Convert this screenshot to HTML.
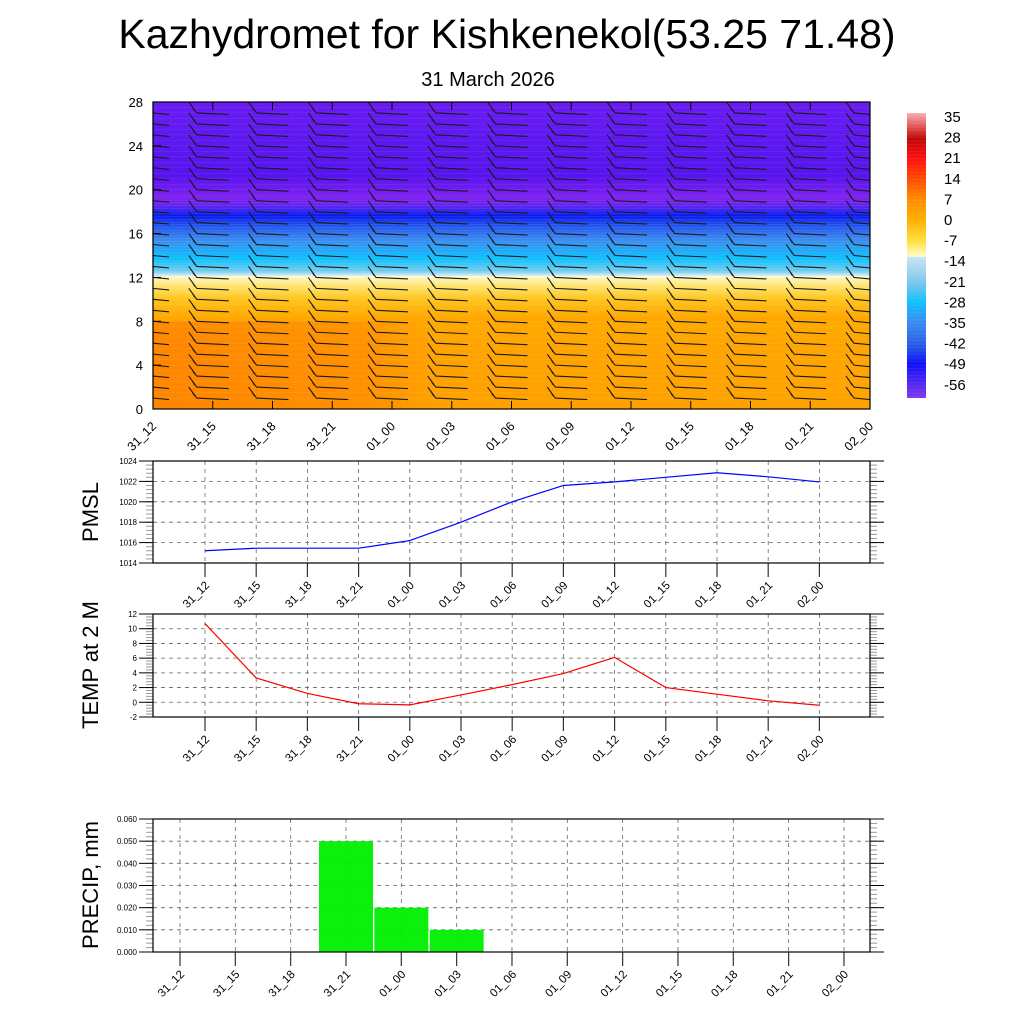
<!DOCTYPE html>
<html><head><meta charset="utf-8"><style>
html,body{margin:0;padding:0;background:#fff;}
svg{display:block;font-family:"Liberation Sans",Arial,sans-serif;}
</style></head><body>
<svg id="s" width="1024" height="1024" viewBox="0 0 1024 1024">
<defs>
<linearGradient id="tgrad" x1="0" y1="0" x2="0" y2="1">
<stop offset="0" stop-color="#6a1cf2"/>
<stop offset="0.14" stop-color="#5c18f0"/>
<stop offset="0.24" stop-color="#5814ee"/>
<stop offset="0.30" stop-color="#7a20f0"/>
<stop offset="0.33" stop-color="#7420ee"/>
<stop offset="0.345" stop-color="#4a28f0"/>
<stop offset="0.37" stop-color="#0a1aee"/>
<stop offset="0.40" stop-color="#2050ee"/>
<stop offset="0.45" stop-color="#3a8cf0"/>
<stop offset="0.51" stop-color="#0cc0ff"/>
<stop offset="0.55" stop-color="#70ccee"/>
<stop offset="0.5665" stop-color="#d8eef6"/>
<stop offset="0.567" stop-color="#fffad0"/>
<stop offset="0.60" stop-color="#ffe470"/>
<stop offset="0.64" stop-color="#ffc620"/>
<stop offset="0.70" stop-color="#ffa800"/>
<stop offset="0.80" stop-color="#ff9c00"/>
<stop offset="1" stop-color="#ff9a00"/>
</linearGradient>
<linearGradient id="hgrad" x1="0" y1="0" x2="1" y2="0">
<stop offset="0" stop-color="#ff7800" stop-opacity="0.6"/>
<stop offset="0.3" stop-color="#ff8400" stop-opacity="0.45"/>
<stop offset="0.4" stop-color="#ffb000" stop-opacity="0.35"/>
<stop offset="1" stop-color="#ffb400" stop-opacity="0.35"/>
</linearGradient>
<linearGradient id="cbar" x1="0" y1="0" x2="0" y2="1">
<stop offset="0" stop-color="#f8b0b0"/>
<stop offset="0.05" stop-color="#e05050"/>
<stop offset="0.09" stop-color="#c00808"/>
<stop offset="0.16" stop-color="#ff1010"/>
<stop offset="0.23" stop-color="#ff4a00"/>
<stop offset="0.30" stop-color="#ff8a00"/>
<stop offset="0.375" stop-color="#ffb000"/>
<stop offset="0.45" stop-color="#ffe040"/>
<stop offset="0.504" stop-color="#fffccc"/>
<stop offset="0.505" stop-color="#c8e6f4"/>
<stop offset="0.59" stop-color="#80c8ec"/>
<stop offset="0.665" stop-color="#10c0ff"/>
<stop offset="0.74" stop-color="#3a88f0"/>
<stop offset="0.81" stop-color="#2a60e8"/>
<stop offset="0.88" stop-color="#1010f8"/>
<stop offset="1" stop-color="#8438ee"/>
</linearGradient>
</defs>
<text x="507" y="48" font-size="41" text-anchor="middle">Kazhydromet for Kishkenekol(53.25 71.48)</text>
<text x="488" y="86" font-size="20" text-anchor="middle">31 March 2026</text>
<g id="top"></g>
<g id="cb"></g>
<g id="p1"></g>
<g id="p2"></g>
<g id="p3"></g>
</svg>
<script>
const timeLabels=["31_12","31_15","31_18","31_21","01_00","01_03","01_06","01_09","01_12","01_15","01_18","01_21","02_00"];
const heightTicks=[0,4,8,12,16,20,24,28];
const colorbarLabels=["35","28","21","14","7","0","-7","-14","-21","-28","-35","-42","-49","-56"];
const pmslValues=[1015.2,1015.45,1015.45,1015.45,1016.2,1018.0,1020.0,1021.6,1021.95,1022.4,1022.85,1022.45,1021.95];
const pmslTicks=[1014,1016,1018,1020,1022,1024];
const tempValues=[10.7,3.3,1.2,-0.2,-0.35,1.0,2.4,3.9,6.1,2.0,1.1,0.2,-0.4];
const tempTicks=[-2,0,2,4,6,8,10,12];
const precipValues=[0,0,0,0.05,0.02,0.01,0,0,0,0,0,0,0];
const precipTicks=[0,0.01,0.02,0.03,0.04,0.05,0.06];
const precipTickLabels=["0.000","0.010","0.020","0.030","0.040","0.050","0.060"];

const NS="http://www.w3.org/2000/svg";
function mk(parent,tag,attrs,text){const e=document.createElementNS(NS,tag);for(const k in attrs)e.setAttribute(k,attrs[k]);if(text!==undefined)e.textContent=text;parent.appendChild(e);return e;}

(function(){
const g=document.getElementById('top');
const L=153,R=870,T=102,B=409;
const x=i=>L+i*(R-L)/12, y=v=>B-v*(B-T)/28;
let e=mk(g,'rect',{x:L,y:T,width:R-L,height:B-T,fill:'url(#tgrad)'});


e=mk(g,'rect',{x:L,y:y(8),width:R-L,height:B-y(8),fill:'url(#hgrad)'});


for(let v=1;v<28;v+=0.5){ if(v>12&&v<19.5)continue; mk(g,'line',{x1:L,x2:R,y1:y(v),y2:y(v),stroke:'#fff','stroke-opacity':0.1,'stroke-width':0.6});}
for(let v=12.3;v<19.5;v+=0.25){mk(g,'line',{x1:L,x2:R,y1:y(v),y2:y(v),stroke:'#fff','stroke-opacity':0.15,'stroke-width':0.5});}
const bg=mk(g,'g',{stroke:'#1a1a1a','stroke-width':1.1,fill:'none'});


for(let i=0;i<13;i++){
  for(let k=1;k<28;k++){
    const px=x(i)-16, py=y(k);
    const x2=Math.min(R,px+32);
    mk(bg,'path',{d:`M${Math.max(L,px-8)} ${py-11} L${Math.max(L,px)} ${py} L${x2} ${py+1.5} M${Math.max(L,px-5)} ${py-7} L${Math.max(L,px-2)} ${py-2}`});
  }
}
mk(g,'rect',{x:L,y:T,width:R-L,height:B-T,fill:'none',stroke:'#000','stroke-width':1.2});
for(const v of heightTicks){
  mk(g,'line',{x1:L,x2:L+8,y1:y(v),y2:y(v),stroke:'#000'});
  e=mk(g,'text',{x:L-10,y:y(v)+5,'font-size':13,'text-anchor':'end'},String(v));
  
  
}
timeLabels.forEach((t,i)=>{
  mk(g,'line',{x1:x(i),x2:x(i),y1:B,y2:B-8,stroke:'#000'});
  mk(g,'line',{x1:x(i),x2:x(i),y1:T,y2:T+8,stroke:'#000'});
  e=mk(g,'text',{x:0,y:0,'font-size':12.5,'text-anchor':'end',transform:`translate(${x(i)+4},${B+18}) rotate(-45)`},t);
  
  
});
})();

(function(){
const g=document.getElementById('cb');
let e=mk(g,'rect',{x:907,y:113,width:19,height:285,fill:'url(#cbar)'});


for(let yy=113;yy<398;yy+=3.5)mk(g,'line',{x1:907,x2:926,y1:yy,y2:yy,stroke:'#fff','stroke-opacity':0.12,'stroke-width':0.6});
colorbarLabels.forEach((t,i)=>{
  e=mk(g,'text',{x:944,y:122+i*20.6,'font-size':15},t);
  
  
});
})();

function panel(id,opt){
const g=document.getElementById(id);
const {L,R,T,B,min,max,x0,dx,ticks,labels,title,ty}=opt;
const y=v=>B-(v-min)/(max-min)*(B-T);
const x=i=>x0+i*dx;
const minorStep=(ticks[1]-ticks[0])/5;
for(let v=min;v<=max+1e-9;v+=minorStep){
  mk(g,'line',{x1:L-7,x2:L,y1:y(v),y2:y(v),stroke:'#999','stroke-width':1});
  mk(g,'line',{x1:R,x2:R+7,y1:y(v),y2:y(v),stroke:'#999','stroke-width':1});
}
ticks.forEach((v,j)=>{
  if(j>0&&j<ticks.length-1)mk(g,'line',{x1:L,x2:R,y1:y(v),y2:y(v),stroke:'#666','stroke-dasharray':'4 4','stroke-width':0.8});
  mk(g,'line',{x1:L-14,x2:L,y1:y(v),y2:y(v),stroke:'#000','stroke-width':1});
  mk(g,'line',{x1:R,x2:R+14,y1:y(v),y2:y(v),stroke:'#000','stroke-width':1});
  let e=mk(g,'text',{x:L-16,y:y(v)+3,'font-size':8,'text-anchor':'end'},labels?labels[j]:String(v));
  
  
});
timeLabels.forEach((t,i)=>{
  mk(g,'line',{x1:x(i),x2:x(i),y1:T,y2:B,stroke:'#666','stroke-dasharray':'4 4','stroke-width':0.8});
  mk(g,'line',{x1:x(i),x2:x(i),y1:B,y2:B+14,stroke:'#333','stroke-width':1.2});
  let e=mk(g,'text',{x:0,y:0,'font-size':11.5,'text-anchor':'end',transform:`translate(${x(i)+5},${B+23}) rotate(-45)`},t);
  
  
});
let e=mk(g,'text',{x:0,y:0,'font-size':22,'text-anchor':'middle',transform:`translate(98,${ty}) rotate(-90)`},title);


return {g,x,y};
}
(function(){
const p=panel('p1',{L:153,R:870,T:461,B:563,min:1014,max:1024,x0:205,dx:51.2,ticks:pmslTicks,title:'PMSL',ty:512});
let e=mk(p.g,'polyline',{points:pmslValues.map((v,i)=>p.x(i)+','+p.y(v)).join(' '),fill:'none',stroke:'#0000ff','stroke-width':1.2});


mk(p.g,'rect',{x:153,y:461,width:717,height:102,fill:'none',stroke:'#000','stroke-width':1.2});
})();
(function(){
const p=panel('p2',{L:153,R:870,T:614,B:717,min:-2,max:12,x0:205,dx:51.2,ticks:tempTicks,title:'TEMP at 2 M',ty:665});
let e=mk(p.g,'polyline',{points:tempValues.map((v,i)=>p.x(i)+','+p.y(v)).join(' '),fill:'none',stroke:'#ff0000','stroke-width':1.2});


mk(p.g,'rect',{x:153,y:614,width:717,height:103,fill:'none',stroke:'#000','stroke-width':1.2});
})();
(function(){
const p=panel('p3',{L:153,R:870,T:819,B:952,min:0,max:0.06,x0:180,dx:55.33,ticks:precipTicks,labels:precipTickLabels,title:'PRECIP, mm',ty:885});
precipValues.forEach((v,i)=>{
  if(v<=0)return;
  const r=mk(p.g,'rect',{x:p.x(i)-27,y:p.y(v),width:54,height:p.y(0)-p.y(v),fill:'#00ee00','fill-opacity':0.95});
  
  
});
mk(p.g,'rect',{x:153,y:819,width:717,height:133,fill:'none',stroke:'#000','stroke-width':1.2});
})();
</script>
</body></html>
